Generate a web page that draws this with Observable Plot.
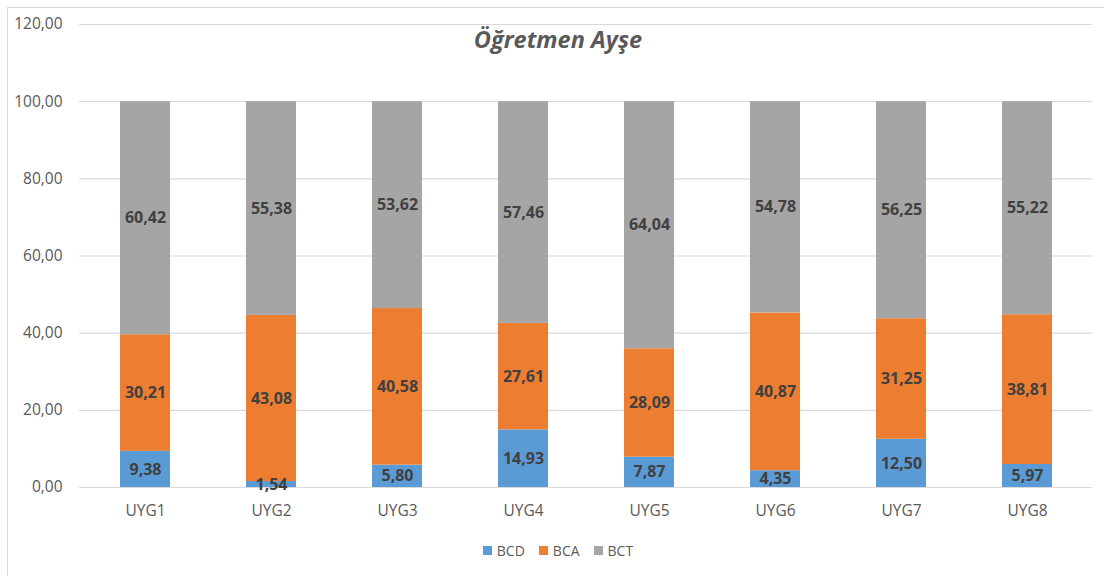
<!DOCTYPE html>
<html>
<head>
<meta charset="utf-8">
<script src="https://cdn.jsdelivr.net/npm/d3@7"></script>
<script src="https://cdn.jsdelivr.net/npm/@observablehq/plot@0.6"></script>
<style>
  html, body { margin: 0; padding: 0; background: #fff; }
  #wrap { position: relative; width: 1104px; height: 576px; overflow: hidden; font-family: "Open Sans", "Noto Sans", sans-serif; }
  #frame { position: absolute; left: 7px; top: 7px; width: 1200px; height: 700px; border: 1px solid #d9d9d9; box-sizing: border-box; }
  #chart { position: absolute; left: 0; top: 0; }
  #legend { position: absolute; left: 0; top: 541px; width: 1104px; display: flex; justify-content: center; gap: 14px; font-size: 14px; color: #595959; padding-left: 12px; box-sizing: border-box; }
  #legend span.item { display: inline-flex; align-items: center; gap: 5px; }
  #legend span.sw { width: 9px; height: 9px; display: inline-block; }
</style>
</head>
<body>
<div id="wrap">
  <div id="frame"></div>
  <div id="chart"></div>
  <div id="legend"></div>
</div>
<script>
const title = "Öğretmen Ayşe";
const categories = ["UYG1", "UYG2", "UYG3", "UYG4", "UYG5", "UYG6", "UYG7", "UYG8"];
const seriesNames = ["BCD", "BCA", "BCT"];
const seriesColors = ["#5B9BD5", "#ED7D31", "#A5A5A5"];
const BCD = [9.38, 1.54, 5.80, 14.93, 7.87, 4.35, 12.50, 5.97];
const BCA = [30.21, 43.08, 40.58, 27.61, 28.09, 40.87, 31.25, 38.81];
const BCT = [60.42, 55.38, 53.62, 57.46, 64.04, 54.78, 56.25, 55.22];
const yTicks = [0, 20, 40, 60, 80, 100, 120];

const seriesValues = [BCD, BCA, BCT];
const data = [];
seriesNames.forEach((s, si) => {
  categories.forEach((c, ci) => {
    data.push({cat: c, series: s, value: seriesValues[si][ci]});
  });
});
const fmt = v => d3.format(".2f")(v).replace(".", ",");

const chart = Plot.plot({
  width: 1104,
  height: 530,
  marginLeft: 79,
  marginRight: 12,
  marginTop: 24,
  marginBottom: 43,
  style: {fontFamily: "'Open Sans', 'Noto Sans', sans-serif", fontSize: "15.5px", color: "#595959", background: "transparent"},
  x: {domain: categories, paddingInner: 0.605, paddingOuter: 0.3, label: null, tickSize: 0, tickPadding: 17},
  y: {domain: [0, 120], ticks: yTicks, label: null, tickSize: 0, tickPadding: 17, tickFormat: fmt},
  color: {domain: seriesNames, range: seriesColors},
  marks: [
    Plot.ruleY(yTicks, {stroke: "#d9d9d9", strokeWidth: 1.2}),
    Plot.barY(data, {x: "cat", y: "value", fill: "series", order: seriesNames, inset: 0}),
    Plot.ruleY([0], {stroke: "#d9d9d9", strokeWidth: 1.2}),
    Plot.text(data, Plot.stackY({x: "cat", y: "value", z: "series", order: seriesNames, text: d => fmt(d.value), fill: "#404040", fontWeight: "bold", fontSize: 16})),
    Plot.text([title], {frameAnchor: "top", lineAnchor: "middle", dy: 16, dx: -28, text: d => d, fontSize: 23.5, fontWeight: "bold", fontStyle: "italic", fill: "#595959"})
  ]
});
document.getElementById("chart").appendChild(chart);

const legend = document.getElementById("legend");
seriesNames.forEach((s, i) => {
  const item = document.createElement("span");
  item.className = "item";
  const sw = document.createElement("span");
  sw.className = "sw";
  sw.style.background = seriesColors[i];
  item.appendChild(sw);
  item.appendChild(document.createTextNode(s));
  legend.appendChild(item);
});
</script>
</body>
</html>
